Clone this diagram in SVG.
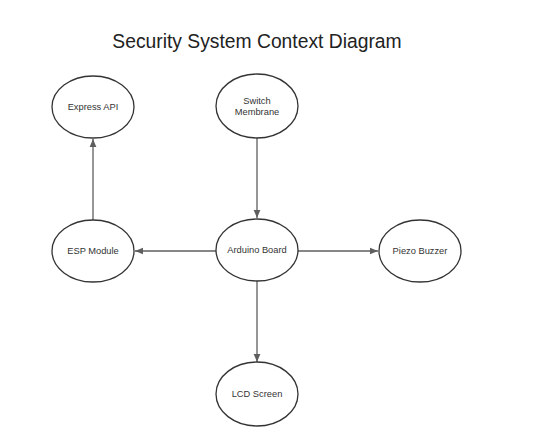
<svg xmlns="http://www.w3.org/2000/svg" width="547" height="440" viewBox="0 0 547 440">
<style>
.node ellipse{fill:#ffffff;stroke:#333333;stroke-width:1.3}
.node text{font-family:"Liberation Sans",Arial,sans-serif;font-size:9.3px;fill:#333333;text-anchor:middle}
.title{font-family:"Liberation Sans",Arial,sans-serif;font-size:19.3px;fill:#222222;text-anchor:middle}
.conn line{stroke:#5e5e5e;stroke-width:1.3;fill:none}
</style>
<defs>
<marker id="arr" viewBox="0 0 10 10" refX="10" refY="5" markerWidth="8" markerHeight="8" markerUnits="userSpaceOnUse" orient="auto">
<path d="M0,0.8 L10,5 L0,9.2 Z" fill="#5e5e5e"/>
</marker>
</defs>
<rect width="547" height="440" fill="#ffffff"/>
<text class="title" x="257" y="48">Security System Context Diagram</text>
<g class="conn">
<line x1="93" y1="220" x2="93" y2="139" marker-end="url(#arr)"/>
<line x1="257" y1="138" x2="257" y2="218" marker-end="url(#arr)"/>
<line x1="216" y1="251" x2="135" y2="251" marker-end="url(#arr)"/>
<line x1="298" y1="251" x2="378" y2="251" marker-end="url(#arr)"/>
<line x1="257" y1="281" x2="257" y2="362" marker-end="url(#arr)"/>
</g>
<g id="express-api" class="node"><ellipse cx="93" cy="107" rx="41" ry="31"/><text x="93" y="110">Express API</text></g>
<g id="switch-membrane" class="node"><ellipse cx="257" cy="106" rx="41" ry="32"/><text x="257" y="104">Switch</text><text x="257" y="115">Membrane</text></g>
<g id="esp-module" class="node"><ellipse cx="93" cy="251" rx="41" ry="31"/><text x="93" y="254">ESP Module</text></g>
<g id="arduino-board" class="node"><ellipse cx="257" cy="250" rx="41" ry="31"/><text x="257" y="253">Arduino Board</text></g>
<g id="piezo-buzzer" class="node"><ellipse cx="420" cy="251" rx="41" ry="31"/><text x="420" y="254">Piezo Buzzer</text></g>
<g id="lcd-screen" class="node"><ellipse cx="257" cy="394" rx="41" ry="32"/><text x="257" y="397">LCD Screen</text></g>
</svg>
